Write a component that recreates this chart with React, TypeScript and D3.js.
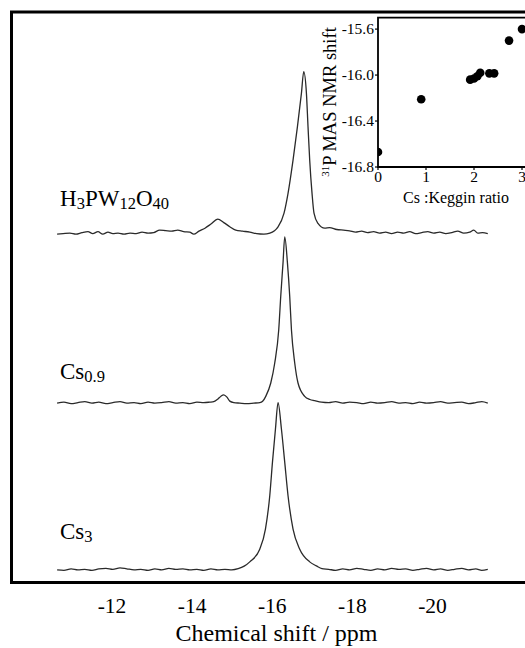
import React from "react";
import * as d3 from "d3";

// Main x-axis ticks (ppm)
const mainTicks = [-12, -14, -16, -18, -20];

// Spectrum: H3PW12O40  [ppm, intensity]
const specH3PW: [number, number][] = [
  [-10.63, -0.6], [-10.78, -0.3], [-10.95, 0], [-11.1, -0.6], [-11.25, 0.3], [-11.4, 0.9],
  [-11.52, -0.3], [-11.65, 0.9], [-11.77, -0.6], [-11.9, 0.6], [-12.02, -0.3], [-12.15, 0],
  [-12.3, -0.6], [-12.45, 0], [-12.6, -0.3], [-12.75, 0.6], [-12.9, 0], [-13.04, 0.3],
  [-13.19, 1.8], [-13.34, 1.5], [-13.49, 1.2], [-13.64, 1.8], [-13.79, 0.9], [-13.94, 0.6],
  [-14.04, -0.6], [-14.17, 1.2], [-14.32, 3.0], [-14.47, 5.5], [-14.64, 8.5], [-14.79, 6.4],
  [-14.94, 3.9], [-15.09, 1.8], [-15.26, 1.2], [-15.44, 0.6], [-15.61, -0.3], [-15.79, -0.6],
  [-15.94, 0], [-16.145, 3.8], [-16.294, 12.1], [-16.394, 24.1], [-16.519, 44.2],
  [-16.628, 64.4], [-16.728, 84.7], [-16.786, 97.8], [-16.853, 84.7], [-16.893, 64.4],
  [-16.935, 44.2], [-16.993, 24.1], [-17.042, 12.1], [-17.142, 5.9], [-17.31, 3.0],
  [-17.43, 3.4], [-17.61, 2.2], [-17.78, 1.8], [-17.93, 1.4], [-18.08, 0.6], [-18.23, 1.2],
  [-18.38, 0.3], [-18.53, 0.9], [-18.68, 0], [-18.83, 0.6], [-18.98, -0.3], [-19.13, 0.6],
  [-19.28, 0], [-19.43, 0.9], [-19.58, -0.3], [-19.73, 0.3], [-19.88, 0.9], [-20.03, 0],
  [-20.18, 0.6], [-20.33, -0.3], [-20.48, 0.3], [-20.63, 1.2], [-20.78, 0], [-20.93, 0.6],
  [-21.03, 1.8], [-21.13, 0], [-21.25, 0.3], [-21.38, -0.3],
];

// Spectrum: Cs0.9
const specCs09: [number, number][] = [
  [-10.63, 0], [-10.8, 0.6], [-10.98, -0.3], [-11.15, 0.3], [-11.32, 0.9], [-11.5, 0],
  [-11.67, 0.6], [-11.85, -0.3], [-12.02, 0.3], [-12.2, 0.9], [-12.37, 0], [-12.55, 0.3],
  [-12.72, -0.3], [-12.9, 0.6], [-13.07, 0], [-13.24, 0.3], [-13.42, 0.9], [-13.59, 0],
  [-13.77, 0.3], [-13.94, -0.3], [-14.12, 0.6], [-14.29, 0.3], [-14.44, 0.6], [-14.54, 0.9],
  [-14.64, 2.4], [-14.72, 4.2], [-14.79, 5.0], [-14.87, 3.6], [-14.94, 1.2], [-15.04, 0.3],
  [-15.19, 0], [-15.36, -0.3], [-15.54, 0], [-15.69, 0.3], [-15.76, 1.1],
  [-15.838, 4.1], [-15.963, 12.2], [-16.062, 24.3], [-16.162, 44.5], [-16.212, 64.8],
  [-16.269, 85], [-16.312, 100.7], [-16.379, 85], [-16.436, 64.8], [-16.479, 44.5],
  [-16.561, 24.3], [-16.643, 12.2], [-16.81, 4.1], [-16.94, 2.2], [-17.06, 1.5],
  [-17.23, 0.6], [-17.41, 0.3], [-17.58, 0.9], [-17.76, 0], [-17.93, 0.6], [-18.11, 0.3],
  [-18.28, -0.3], [-18.46, 0.6], [-18.63, 0], [-18.81, 0.3], [-18.98, 0.9], [-19.16, 0],
  [-19.33, 0.3], [-19.51, -0.3], [-19.68, 0.6], [-19.85, 0], [-20.03, 0.3], [-20.2, 0.9],
  [-20.38, 0], [-20.55, 0.3], [-20.73, 0.6], [-20.9, -0.3], [-21.08, 0.3], [-21.23, 0.9],
  [-21.38, 0],
];

// Spectrum: Cs3
const specCs3: [number, number][] = [
  [-10.63, 0], [-10.8, -0.3], [-10.98, 0.6], [-11.15, 0], [-11.32, 0.3], [-11.5, -0.3],
  [-11.67, 0.6], [-11.85, 0.9], [-12.02, 0.3], [-12.2, 1.2], [-12.37, 0.6], [-12.55, 0],
  [-12.72, 0.3], [-12.9, -0.3], [-13.07, 0.6], [-13.24, 0], [-13.42, 0.9], [-13.59, 0.3],
  [-13.77, 0.6], [-13.94, 0], [-14.12, 0.3], [-14.29, -0.3], [-14.47, 0.6], [-14.64, 0],
  [-14.82, 0.3], [-14.99, 0], [-15.15, 0.7], [-15.3, 2.2],
  [-15.439, 4.8], [-15.688, 12.5], [-15.83, 24.7], [-15.938, 44.9], [-16.005, 65.1],
  [-16.08, 85.3], [-16.145, 101.3], [-16.229, 85.3], [-16.312, 65.1], [-16.394, 44.9],
  [-16.519, 24.7], [-16.686, 12.5], [-16.935, 4.8], [-17.1, 2.4], [-17.24, 0.7],
  [-17.41, 0.3], [-17.58, -0.3], [-17.76, 0.6], [-17.93, 0], [-18.11, 0.9], [-18.28, 0.3],
  [-18.46, -0.3], [-18.63, 0.6], [-18.81, 0], [-18.98, 0.9], [-19.16, 0.3], [-19.33, 0.6],
  [-19.51, -0.3], [-19.68, 0.3], [-19.85, 0.9], [-20.03, 0], [-20.2, 0.6], [-20.38, -0.3],
  [-20.55, 0.3], [-20.73, 0.9], [-20.9, 0], [-21.08, 0.6], [-21.23, -0.3], [-21.38, 0.3],
];

const traceOffsets = [212, 109, 8];

// Inset data
const insetXTicks = [0, 1, 2, 3];
const insetYTicks = [-15.6, -16.0, -16.4, -16.8];
const csRatio = [0, 0.9, 1.92, 2.0, 2.07, 2.13, 2.32, 2.42, 2.73, 3.0];
const p31Shift = [-16.67, -16.21, -16.04, -16.03, -16.01, -15.98, -15.985, -15.985, -15.7, -15.6];

const FONT = "Liberation Serif, DejaVu Serif, serif";
const tx = { fontFamily: FONT };

export default function App() {
  const x = d3.scaleLinear().domain([-12, -20]).range([112, 432.5]);
  const y = d3.scaleLinear().domain([0, 346]).range([583, 12]);

  const specs = [specH3PW, specCs09, specCs3];
  const paths = specs.map((s, i) =>
    d3
      .line<[number, number]>()
      .x((d) => x(d[0]))
      .y((d) => y(d[1] + traceOffsets[i]))
      .curve(d3.curveMonotoneX)(s) || ""
  );

  const ix = d3.scaleLinear().domain([0, 3.2]).range([378, 531.6]);
  const iy = d3.scaleLinear().domain([-16.8, -15.5]).range([167, 17.6]);

  return (
    <svg
      width={525}
      height={648}
      style={{ position: "absolute", left: 0, top: 0, background: "#fff", fontFamily: FONT }}
    >
      <defs>
        <clipPath id="insetClip">
          <rect x={ix(0)} y={iy(-15.5)} width={200} height={iy(-16.8) - iy(-15.5)} />
        </clipPath>
      </defs>
      <rect x={0} y={0} width={525} height={648} fill="#fff" />

      {paths.map((p, i) => (
        <path key={i} d={p} fill="none" stroke="#2a2a2a" strokeWidth={1.3} strokeLinejoin="round" />
      ))}

      <rect x={11.5} y={12} width={530} height={570.5} fill="none" stroke="#000" strokeWidth={3} />

      {mainTicks.map((t) => (
        <text key={t} style={tx} x={x(t)} y={613} textAnchor="middle" fontSize={21.5} fill="#000">
          {String(t)}
        </text>
      ))}
      <text style={tx} x={276.5} y={641} textAnchor="middle" fontSize={24} fill="#000">
        Chemical shift / ppm
      </text>

      <text style={tx} x={60} y={206} fontSize={23} fill="#000">
        H<tspan fontSize={16.5} dy={3}>3</tspan>
        <tspan dy={-3}>PW</tspan>
        <tspan fontSize={16.5} dy={3}>12</tspan>
        <tspan dy={-3}>O</tspan>
        <tspan fontSize={16.5} dy={3}>40</tspan>
      </text>
      <text style={tx} x={60} y={379} fontSize={23} fill="#000">
        Cs<tspan fontSize={16.5} dy={3}>0.9</tspan>
      </text>
      <text style={tx} x={60} y={539} fontSize={23} fill="#000">
        Cs<tspan fontSize={16.5} dy={3}>3</tspan>
      </text>

      <rect x={ix(0)} y={iy(-15.5)} width={200} height={iy(-16.8) - iy(-15.5)} fill="#fff" />
      <g clipPath="url(#insetClip)">
        {csRatio.map((c, i) => (
          <circle key={i} cx={ix(c)} cy={iy(p31Shift[i])} r={4.3} fill="#000" />
        ))}
      </g>
      <path
        d={`M${ix(0) + 200},${iy(-15.5)} H${ix(0)} V${iy(-16.8)} H${ix(0) + 200}`}
        fill="none"
        stroke="#000"
        strokeWidth={1.8}
      />
      {insetYTicks.map((t) => (
        <g key={t}>
          <line x1={ix(0) - 3} x2={ix(0)} y1={iy(t)} y2={iy(t)} stroke="#000" strokeWidth={1.2} />
          <text style={tx} x={ix(0) - 4} y={iy(t) + 5} textAnchor="end" fontSize={15.5} fill="#000">
            {t.toFixed(1)}
          </text>
        </g>
      ))}
      {insetXTicks.map((t) => (
        <g key={t}>
          <line x1={ix(t)} x2={ix(t)} y1={iy(-16.8)} y2={iy(-16.8) + 3} stroke="#000" strokeWidth={1.2} />
          <text style={tx} x={ix(t)} y={182} textAnchor="middle" fontSize={15.5} fill="#000">
            {String(t)}
          </text>
        </g>
      ))}
      <text style={tx} x={456} y={203} textAnchor="middle" fontSize={16} fill="#000">
        Cs :Keggin ratio
      </text>
      <text
        style={tx}
        transform={`translate(336,102) rotate(-90)`}
        textAnchor="middle"
        fontSize={18.5}
        fill="#000"
      >
        <tspan fontSize={11} dy={-7}>31</tspan>
        <tspan dy={7}>P MAS NMR shift</tspan>
      </text>
    </svg>
  );
}
